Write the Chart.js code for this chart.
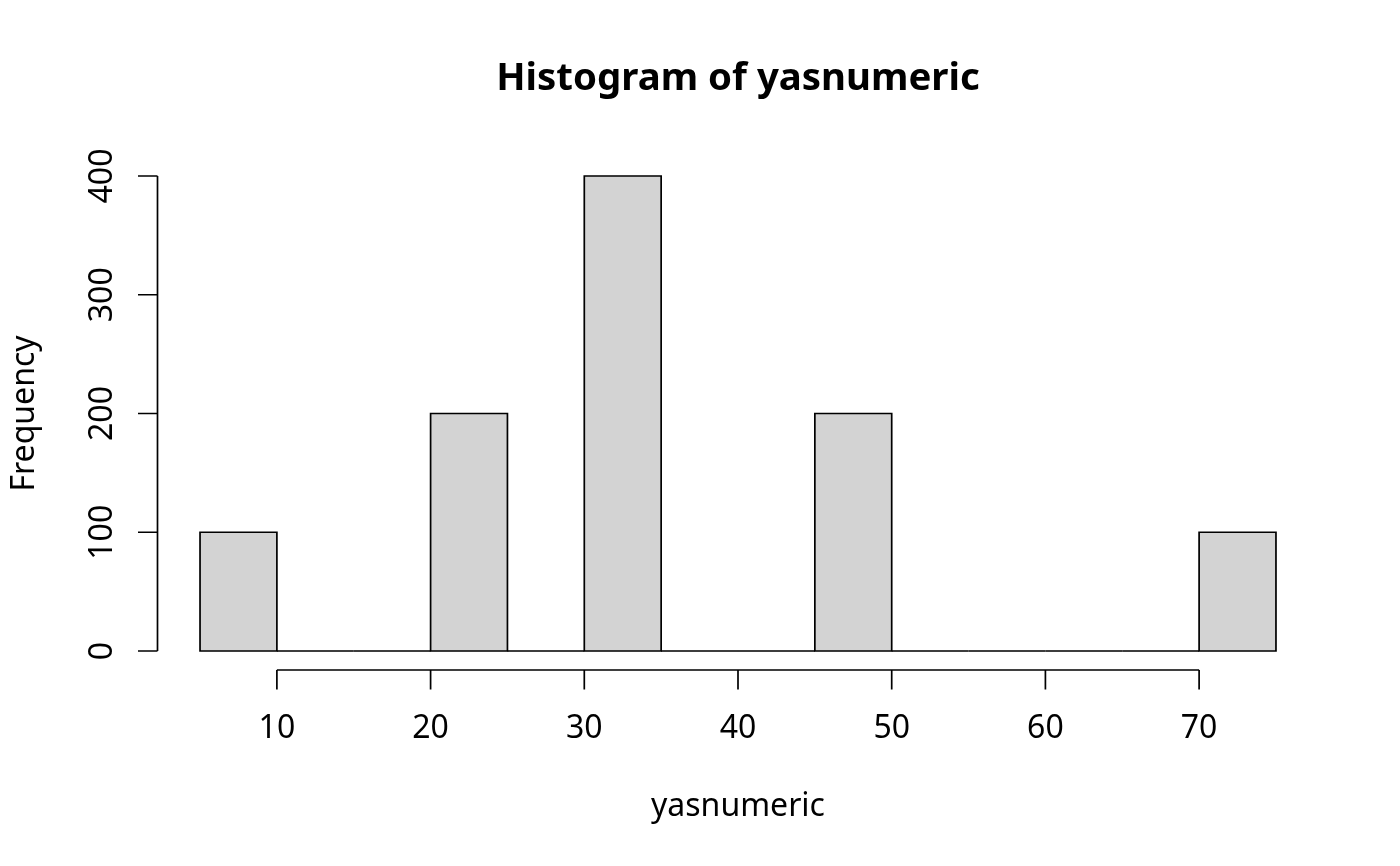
<!DOCTYPE html>
<html>
<head>
<meta charset="utf-8">
<script src="https://cdn.jsdelivr.net/npm/chart.js@4"></script>
<style>
  html, body { margin: 0; padding: 0; background: #ffffff; }
  #wrap { width: 1400px; height: 866px; position: relative; }
</style>
</head>
<body>
<div id="wrap"><canvas id="c" width="1400" height="866"></canvas></div>
<script>
// ---- data ----
const binMids = [7.5, 12.5, 17.5, 22.5, 27.5, 32.5, 37.5, 42.5, 47.5, 52.5, 57.5, 62.5, 67.5, 72.5];
const counts  = [100, 0, 0, 200, 0, 400, 0, 0, 200, 0, 0, 0, 0, 100];
const xTicks  = [10, 20, 30, 40, 50, 60, 70];
const yTicks  = [0, 100, 200, 300, 400];
const titleText = 'Histogram of yasnumeric';
const xTitle = 'yasnumeric';
const yTitle = 'Frequency';

const FONT = '"Noto Sans", "Open Sans", sans-serif';
const LW = 1.7;

const rAxes = {
  id: 'rAxes',
  afterDatasetsDraw(chart) {
    const ctx = chart.ctx;
    const xs = chart.scales.x, ys = chart.scales.y;
    const area = chart.chartArea;
    ctx.save();
    ctx.strokeStyle = '#000';
    ctx.lineWidth = LW;
    // bar outlines (R style, stroke centred on the bin edges); zero bins become a flat line
    const meta = chart.getDatasetMeta(0);
    meta.data.forEach((el, i) => {
      const p = el.getProps(['x', 'y', 'base', 'width'], true);
      const l = p.x - p.width / 2, r = p.x + p.width / 2;
      ctx.beginPath();
      if (counts[i] === 0) {
        ctx.moveTo(l, p.base);
        ctx.lineTo(r, p.base);
      } else {
        ctx.rect(l, p.y, r - l, p.base - p.y);
      }
      ctx.stroke();
    });
    // y axis
    const yl = area.left + 0.5;
    const tick = 19.5;
    ctx.beginPath();
    ctx.moveTo(yl, ys.getPixelForValue(yTicks[0]));
    ctx.lineTo(yl, ys.getPixelForValue(yTicks[yTicks.length - 1]));
    yTicks.forEach(v => {
      const y = ys.getPixelForValue(v);
      ctx.moveTo(yl, y);
      ctx.lineTo(yl - tick, y);
    });
    ctx.stroke();
    // x axis
    const xb = area.bottom;
    ctx.beginPath();
    ctx.moveTo(xs.getPixelForValue(xTicks[0]), xb);
    ctx.lineTo(xs.getPixelForValue(xTicks[xTicks.length - 1]), xb);
    xTicks.forEach(v => {
      const x = xs.getPixelForValue(v);
      ctx.moveTo(x, xb);
      ctx.lineTo(x, xb + tick);
    });
    ctx.stroke();

    ctx.fillStyle = '#000';
    ctx.font = '32px ' + FONT;
    // x tick labels
    ctx.textAlign = 'center';
    ctx.textBaseline = 'alphabetic';
    xTicks.forEach(v => {
      ctx.fillText(String(v), xs.getPixelForValue(v), 738);
    });
    // y tick labels (rotated)
    yTicks.forEach(v => {
      const y = ys.getPixelForValue(v);
      ctx.save();
      ctx.translate(112, y);
      ctx.rotate(-Math.PI / 2);
      ctx.fillText(String(v), 0, 0);
      ctx.restore();
    });
    // axis titles
    ctx.fillText(xTitle, (area.left + area.right) / 2, 816);
    ctx.save();
    ctx.translate(34, (area.top + area.bottom) / 2);
    ctx.rotate(-Math.PI / 2);
    ctx.fillText(yTitle, 0, 0);
    ctx.restore();
    // main title
    ctx.font = 'bold 38.4px ' + FONT;
    ctx.fillText(titleText, (area.left + area.right) / 2, 90);
    ctx.restore();
  }
};

new Chart(document.getElementById('c'), {
  type: 'bar',
  data: {
    datasets: [{
      data: binMids.map((m, i) => ({ x: m, y: counts[i] })),
      backgroundColor: '#D3D3D3',
      borderWidth: 0,
      barPercentage: 1.0,
      categoryPercentage: 1.0
    }]
  },
  options: {
    responsive: false,
    animation: false,
    devicePixelRatio: 1,
    layout: { padding: { left: 157, right: 81, top: 157, bottom: 196 } },
    plugins: { legend: { display: false }, tooltip: { enabled: false }, title: { display: false } },
    scales: {
      x: {
        type: 'linear', min: 2.2, max: 77.8, display: false, offset: false,
        grid: { offset: false },
        afterBuildTicks(s) { s.ticks = xTicks.map(v => ({ value: v })); }
      },
      y: {
        type: 'linear', min: -16, max: 416, display: false,
        afterBuildTicks(s) { s.ticks = yTicks.map(v => ({ value: v })); }
      }
    }
  },
  plugins: [rAxes]
});
</script>
</body>
</html>
